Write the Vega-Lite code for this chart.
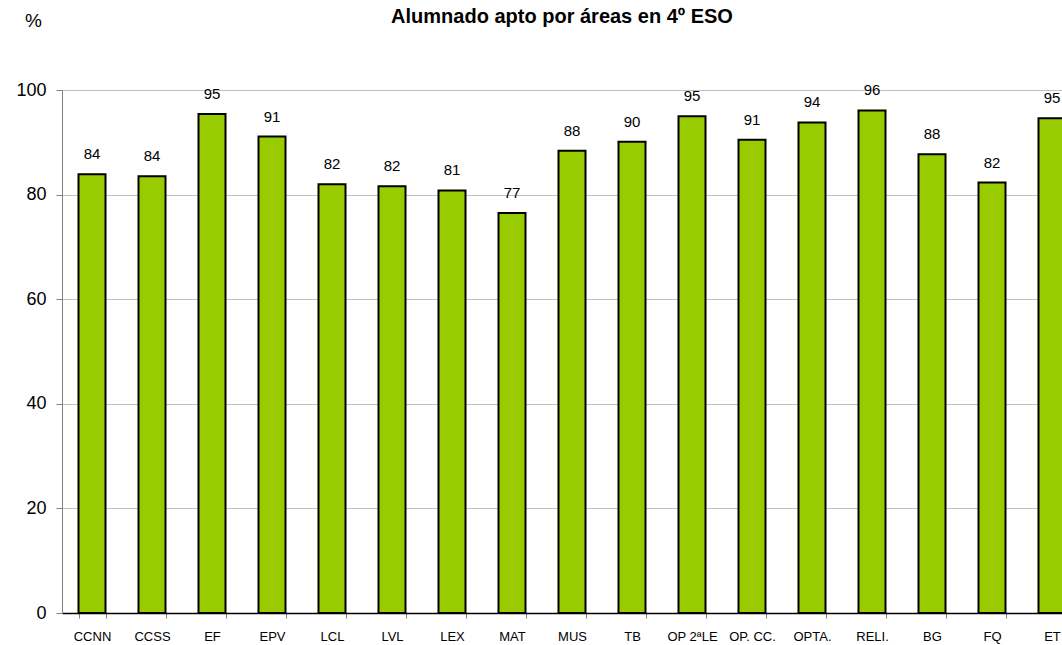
{
  "$schema": "https://vega.github.io/schema/vega-lite/v6.json",
  "autosize": {"type": "none"},
  "padding": {"left": 62, "top": 90, "right": 0, "bottom": 32},
  "width": 1000,
  "height": 523,
  "background": "white",
  "config": {
    "view": {"stroke": null},
    "font": "Liberation Sans"
  },
  "title": {
    "text": "Alumnado apto por áreas en 4º ESO",
    "anchor": "middle",
    "font": "Liberation Sans",
    "fontSize": 20,
    "fontWeight": "bold",
    "color": "#000000",
    "baseline": "alphabetic",
    "offset": -32
  },
  "data": {
    "values": [
      {"area": "CCNN", "value": 83.9},
      {"area": "CCSS", "value": 83.5},
      {"area": "EF", "value": 95.4},
      {"area": "EPV", "value": 91.1},
      {"area": "LCL", "value": 82.0},
      {"area": "LVL", "value": 81.6},
      {"area": "LEX", "value": 80.8},
      {"area": "MAT", "value": 76.5},
      {"area": "MUS", "value": 88.4},
      {"area": "TB", "value": 90.1},
      {"area": "OP 2ªLE", "value": 95.0},
      {"area": "OP. CC.", "value": 90.5},
      {"area": "OPTA.", "value": 93.8},
      {"area": "RELI.", "value": 96.1},
      {"area": "BG", "value": 87.7},
      {"area": "FQ", "value": 82.3},
      {"area": "ET", "value": 94.6}
    ]
  },
  "encoding": {
    "x": {
      "field": "area",
      "type": "nominal",
      "sort": null,
      "scale": {"range": [0, 1020], "paddingInner": 0.55, "paddingOuter": 0.275},
      "axis": {
        "title": null,
        "labelAngle": 0,
        "labelFont": "Liberation Sans",
        "labelFontSize": 13,
        "labelColor": "#000000",
        "labelPadding": 12,
        "tickBand": "extent",
        "tickSize": 5,
        "tickColor": "#808080",
        "domainColor": "#000000",
        "domainWidth": 1.5,
        "grid": false
      }
    },
    "y": {
      "field": "value",
      "type": "quantitative",
      "scale": {"domain": [0, 100], "nice": false},
      "axis": {
        "values": [0, 20, 40, 60, 80, 100],
        "title": "%",
        "titleAngle": 0,
        "titleX": -29,
        "titleY": -70,
        "titleAlign": "center",
        "titleBaseline": "middle",
        "titleFont": "Liberation Sans",
        "titleFontSize": 19,
        "titleFontWeight": "normal",
        "titleColor": "#000000",
        "labelFont": "Liberation Sans",
        "labelFontSize": 18,
        "labelColor": "#000000",
        "labelPadding": 10,
        "tickSize": 6,
        "tickColor": "#808080",
        "domainColor": "#808080",
        "grid": true,
        "gridColor": "#c0c0c0",
        "gridWidth": 1
      }
    }
  },
  "layer": [
    {
      "mark": {"type": "bar", "fill": "#99cc00", "stroke": "#000000", "strokeWidth": 2, "clip": true}
    },
    {
      "mark": {"type": "text", "baseline": "alphabetic", "dy": -15, "font": "Liberation Sans", "fontSize": 15, "color": "#000000"},
      "encoding": {
        "text": {"field": "value", "type": "quantitative", "format": ".0f"}
      }
    }
  ]
}
